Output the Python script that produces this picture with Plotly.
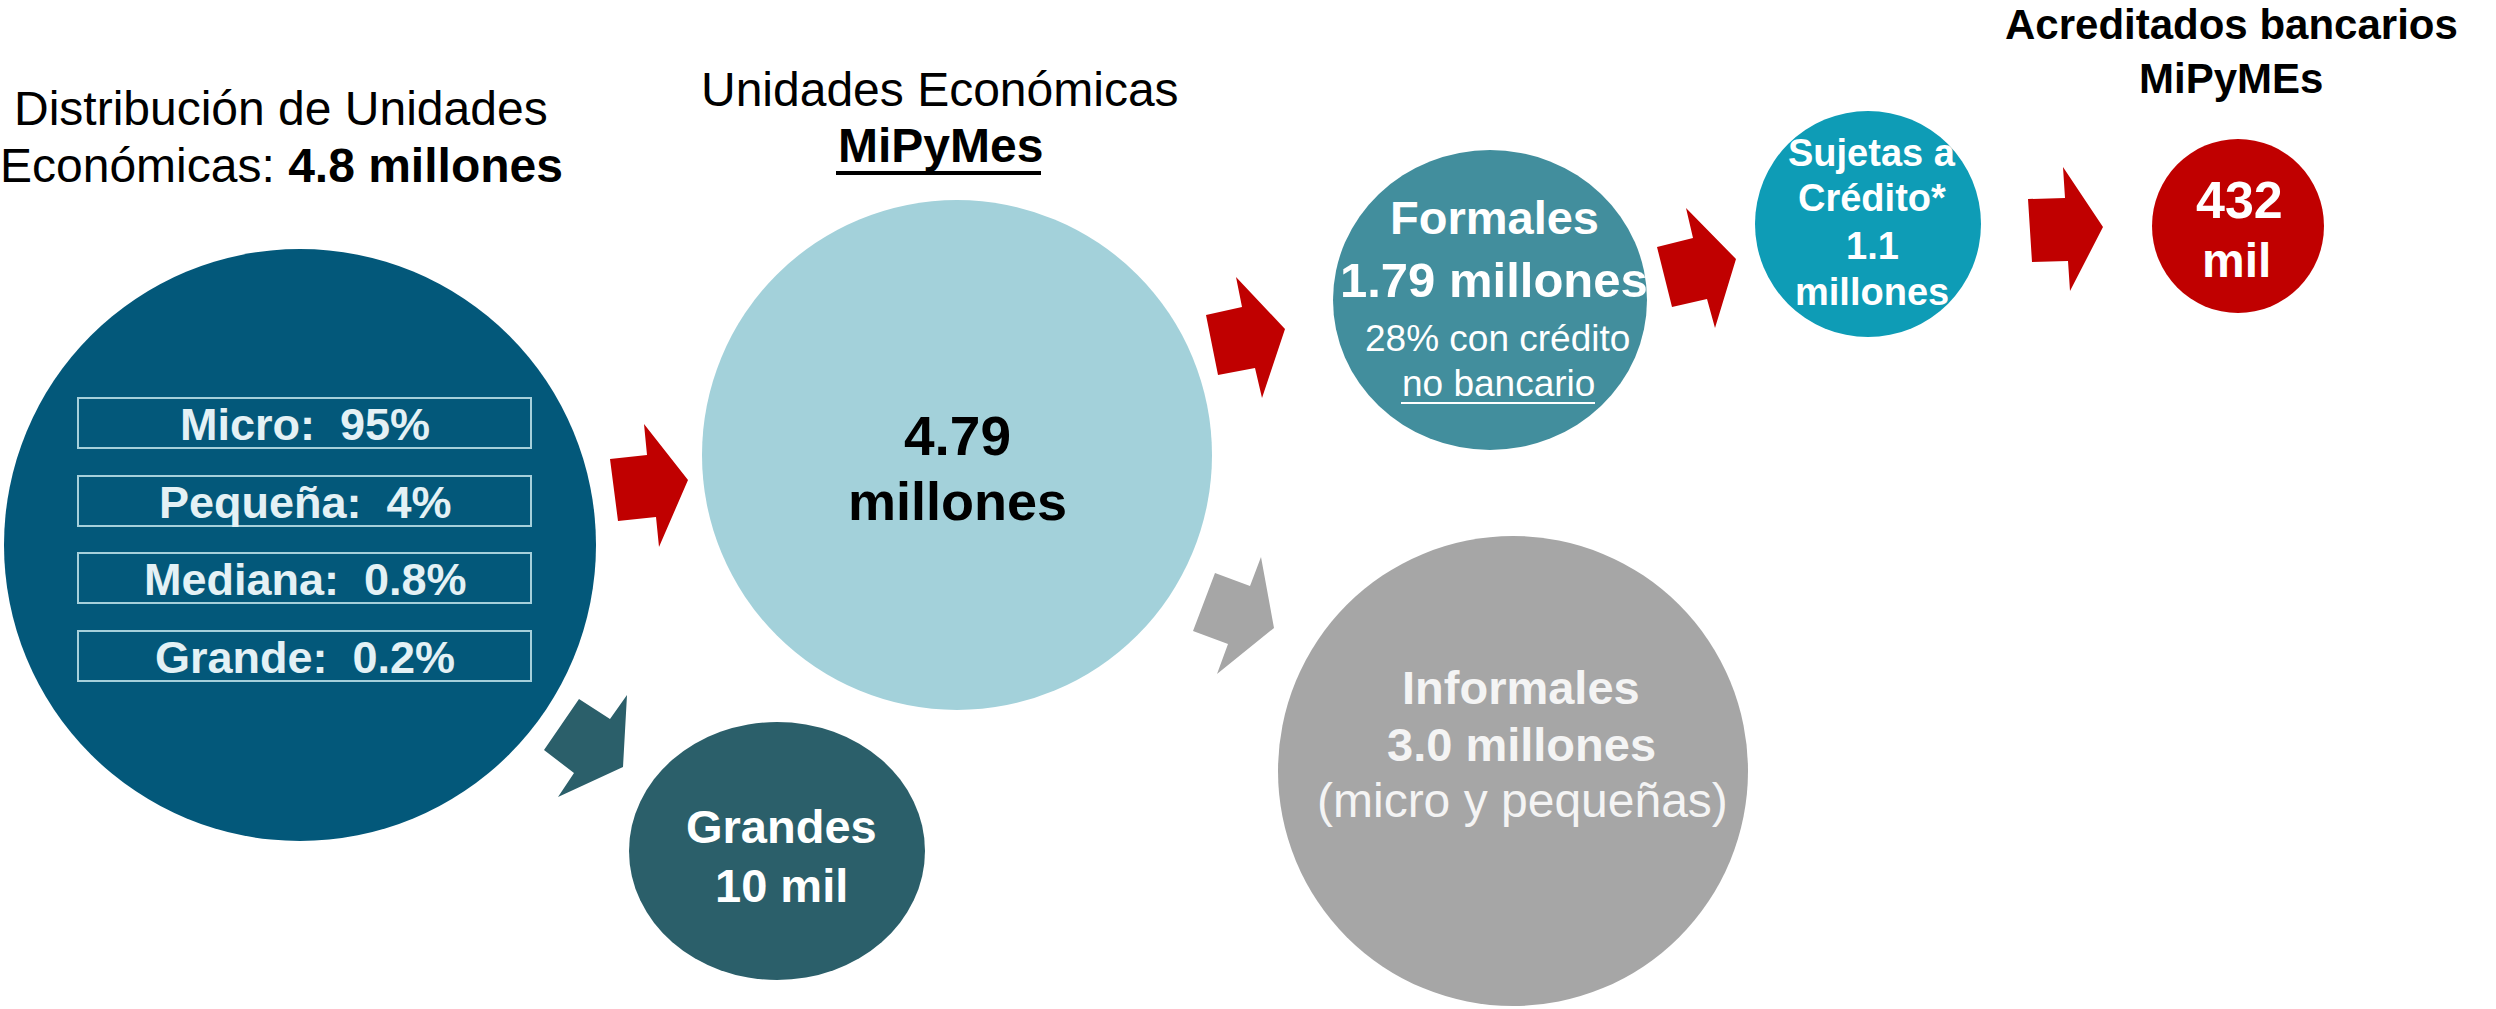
import plotly.graph_objects as go

# ---------------- data (values / labels) ----------------
title_left = ["Distribución de Unidades", "Económicas: ", "4.8 millones"]
dist_labels = ["Micro", "Pequeña", "Mediana", "Grande"]
dist_shares = ["95%", "4%", "0.8%", "0.2%"]
mipymes_title = ["Unidades Económicas", "MiPyMes"]
mipymes_total = ["4.79", "millones"]
formales = ["Formales", "1.79 millones", "28% con crédito", "no bancario"]
informales = ["Informales", "3.0 millones", "(micro y pequeñas)"]
grandes = ["Grandes", "10 mil"]
sujetas = ["Sujetas a", "Crédito*", "1.1", "millones"]
acreditados_title = ["Acreditados bancarios", "MiPyMEs"]
acreditados = ["432", "mil"]

# ---------------- layout geometry / styles ----------------
W, H = 2496, 1009
FONT = "Liberation Sans, Arial, sans-serif"

C_DARK = "#03587A"
C_LIGHT = "#A3D1DA"
C_FORM = "#428E9D"
C_SUJ = "#0E9CB6"
C_RED = "#C00000"
C_GREY = "#A6A6A6"
C_GRAN = "#2B5F6A"
C_BOXTXT = "#E4F1F5"
C_BOXLINE = "#A6D0DB"

shapes = []
annotations = []


def ellipse(cx, cy, rx, ry, color):
    shapes.append(dict(type="circle", xref="x", yref="y",
                       x0=cx - rx, x1=cx + rx, y0=cy - ry, y1=cy + ry,
                       fillcolor=color, line=dict(width=0), layer="below"))


def poly(pts, color):
    p = "M " + " L ".join(f"{x},{y}" for x, y in pts) + " Z"
    shapes.append(dict(type="path", xref="x", yref="y", path=p,
                       fillcolor=color, line=dict(width=0), layer="below"))


def txt(x, baseline, s, size, color="black", bold=False):
    if bold:
        s = f"<b>{s}</b>"
    annotations.append(dict(x=x, y=baseline - 0.35 * size, xref="x", yref="y",
                            text=s, showarrow=False, xanchor="center",
                            yanchor="middle",
                            font=dict(family=FONT, size=size, color=color)))


def hline(x0, x1, y, width, color):
    shapes.append(dict(type="line", xref="x", yref="y", x0=x0, x1=x1,
                       y0=y, y1=y, line=dict(color=color, width=width)))


# circles
ellipse(300, 545, 296, 296, C_DARK)
ellipse(957, 455, 255, 255, C_LIGHT)
ellipse(1490, 300, 157, 150, C_FORM)
ellipse(1868, 224, 113, 113, C_SUJ)
ellipse(2238, 226, 86, 87, C_RED)
ellipse(1513, 771, 235, 235, C_GREY)
ellipse(777, 851, 148, 129, C_GRAN)

# arrows
poly([(610, 459), (647, 455), (644, 424), (688, 480), (659, 547), (656, 517), (618, 521)], C_RED)
poly([(1206, 315), (1242, 307), (1236, 277), (1285, 329), (1262, 398), (1255, 368), (1218, 375)], C_RED)
poly([(1657, 247), (1693, 238), (1686, 208), (1736, 259), (1715, 328), (1707, 299), (1672, 307)], C_RED)
poly([(2028, 199), (2065, 198), (2063, 167), (2103, 227), (2070, 291), (2068, 261), (2032, 262)], C_RED)
poly([(1215, 573), (1250, 586), (1261, 557), (1274, 628), (1217, 674), (1228, 644), (1193, 631)], C_GREY)
poly([(579, 699), (610, 719), (627, 695), (623, 767), (558, 797), (574, 773), (544, 750)], C_GRAN)

# left title
txt(281, 125, title_left[0], 48)
txt(281, 182, f"{title_left[1]}<b>{title_left[2]}</b>", 48)

# distribution boxes
box_centers = [423, 501, 578, 656]
for lab, sh, cy in zip(dist_labels, dist_shares, box_centers):
    shapes.append(dict(type="rect", xref="x", yref="y", x0=78, x1=531,
                       y0=cy - 25, y1=cy + 25, fillcolor="rgba(0,0,0,0)",
                       line=dict(color=C_BOXLINE, width=2)))
    txt(305, cy + 17, f"{lab}:\u00a0 {sh}", 45, C_BOXTXT, bold=True)

# MiPyMes title
txt(940, 106, mipymes_title[0], 48)
txt(940, 162, mipymes_title[1], 48, bold=True)
hline(836, 1041, 173, 4, "black")

# light circle
txt(957, 455, mipymes_total[0], 55, bold=True)
txt(957, 520, mipymes_total[1], 54, bold=True)

# Formales
txt(1494, 234, formales[0], 47, "white", bold=True)
txt(1494, 297, formales[1], 49, "white", bold=True)
txt(1497, 351, formales[2], 37, "white")
txt(1498, 396, formales[3], 37, "white")
hline(1401, 1595, 403, 2, "white")

# Sujetas
txt(1872, 166, sujetas[0], 38, "white", bold=True)
txt(1872, 211, sujetas[1], 38, "white", bold=True)
txt(1872, 259, sujetas[2], 38, "white", bold=True)
txt(1872, 305, sujetas[3], 38, "white", bold=True)

# Acreditados
txt(2231, 39, acreditados_title[0], 42, bold=True)
txt(2231, 93, acreditados_title[1], 42, bold=True)
txt(2239, 218, acreditados[0], 52, "white", bold=True)
txt(2236, 277, acreditados[1], 48, "white", bold=True)

# Informales
txt(1521, 704, informales[0], 47, "#F4F4F4", bold=True)
txt(1521, 761, informales[1], 47, "#F4F4F4", bold=True)
txt(1522, 817, informales[2], 48, "#F4F4F4")

# Grandes
txt(781, 843, grandes[0], 47, "white", bold=True)
txt(781, 902, grandes[1], 47, "white", bold=True)

fig = go.Figure()
fig.update_layout(
    width=W, height=H, margin=dict(l=0, r=0, t=0, b=0),
    paper_bgcolor="white", plot_bgcolor="white",
    xaxis=dict(range=[0, W], visible=False, fixedrange=True),
    yaxis=dict(range=[H, 0], visible=False, fixedrange=True),
    shapes=shapes, annotations=annotations, showlegend=False,
)

fig.write_html("out.html", config={"displayModeBar": False},
               post_script="document.body.style.margin='0';document.body.style.overflow='hidden';")
